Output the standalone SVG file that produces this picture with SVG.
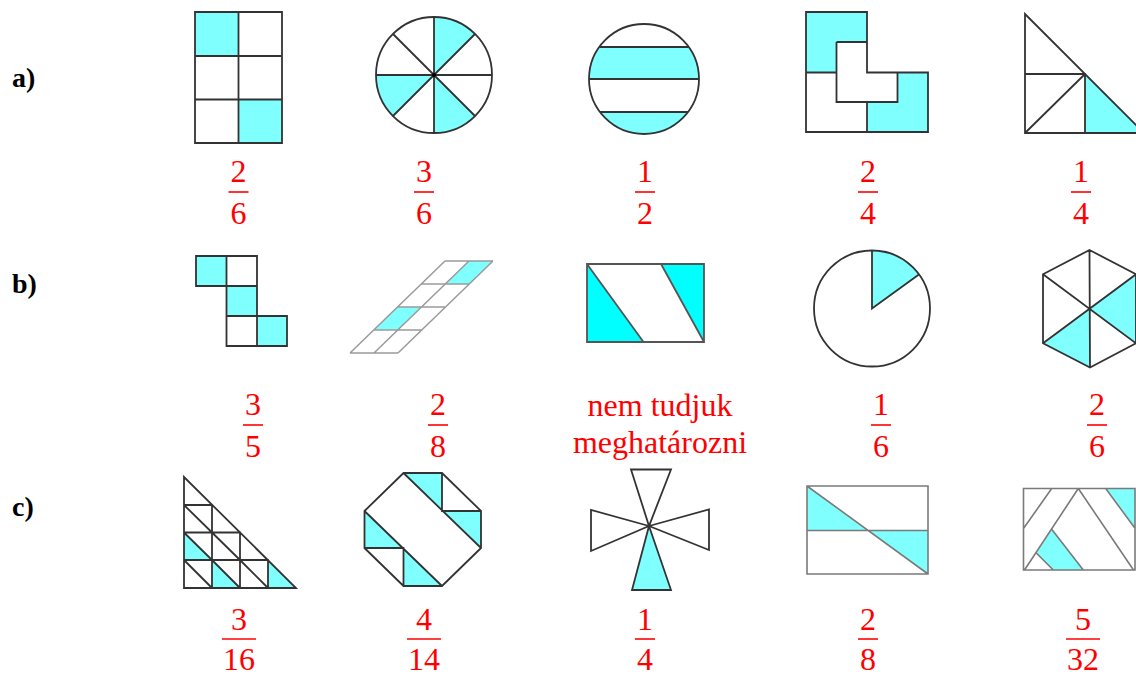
<svg xmlns="http://www.w3.org/2000/svg" width="1136" height="677" viewBox="0 0 1136 677">
<style>
.s{stroke:#333;stroke-width:1.8;fill:none;stroke-linejoin:miter}
.f{fill:#80FFFF;stroke:none}
.F{fill:#00FFFF;stroke:none}
.g{stroke:#9a9a9a;stroke-width:1.5;fill:none}
.gd{stroke:#7a7a7a;stroke-width:1.6;fill:none}
.lab{font-family:"Liberation Serif","Times New Roman",serif;font-weight:bold;font-size:28px;fill:#000}
.fr{font-family:"Liberation Serif","Times New Roman",serif;font-size:32px;fill:#f00;text-anchor:middle}
.bar{stroke:#f00;stroke-width:1.6}
</style>
<rect width="1136" height="677" fill="#fff"/>

<g id="labels">
<text class="lab" x="12" y="87">a)</text>
<text class="lab" x="12" y="293">b)</text>
<text class="lab" x="12" y="516">c)</text>
</g>

<!-- Row a -->
<g id="a1">
<rect class="f" x="195" y="12" width="43.5" height="44"/>
<rect class="f" x="238.5" y="99.5" width="43.5" height="43.5"/>
<path class="s" d="M195,12H282V143H195Z M238.5,12V143 M195,56H282 M195,99.5H282"/>
</g>
<g id="a2">
<path class="f" d="M434,75 L434,17 A58,58 0 0 1 475.01,33.99 Z"/>
<path class="f" d="M434,75 L392.99,116.01 A58,58 0 0 1 376,75 Z"/>
<path class="f" d="M434,75 L475.01,116.01 A58,58 0 0 1 434,133 Z"/>
<circle class="s" cx="434" cy="75" r="58"/>
<path class="s" d="M434,17V133 M376,75H492 M392.99,33.99L475.01,116.01 M392.99,116.01L475.01,33.99"/>
<circle cx="434" cy="75" r="2" fill="#000"/>
</g>
<g id="a3">
<path class="f" d="M599.3,47 L688.7,47 A55,55 0 0 1 699,79 L589,79 A55,55 0 0 1 599.3,47 Z"/>
<path class="f" d="M600,112 L688,112 A55,55 0 0 1 600,112 Z"/>
<circle class="s" cx="644" cy="79" r="55"/>
<path class="s" d="M599.3,47H688.7 M589,79H699 M600,112H688"/>
</g>
<g id="a4">
<path class="f" d="M806,12H867V42H836.5V72.5H806Z"/>
<path class="f" d="M928,72.5V132H867V102H897.5V72.5Z"/>
<path class="s" d="M806,12H867V72.5H928V132H806Z M836.5,42H867 M836.5,42V102H867V132 M806,72.5H836.5 M867,102H897.5V72.5"/>
</g>
<g id="a5">
<path class="f" d="M1085,74L1085,133L1144,133Z"/>
<path class="s" d="M1025,14V133H1144Z M1025,74H1085V133 M1025,133L1085,74"/>
</g>

<!-- Row b -->
<g id="b1">
<rect class="f" x="196" y="256" width="30.5" height="30"/>
<rect class="f" x="226.5" y="286" width="30.5" height="30"/>
<rect class="f" x="257" y="316" width="30" height="30"/>
<path class="s" d="M196,256H257V346H226.5V286H196Z M226.5,256V286 M226.5,286H257 M226.5,316H287V346H257V316"/>
</g>
<g id="b2">
<path class="f" d="M469,261H493L469.25,284H445.25Z"/>
<path class="f" d="M397.5,307H421.5L397.75,330H373.75Z"/>
<path class="g" d="M445,261H493 M421.25,284H469.25 M397.5,307H445.5 M373.75,330H421.75 M350,353H398 M445,261L350,353 M469,261L374,353 M493,261L398,353"/>
</g>
<g id="b3">
<path class="F" d="M587,264V342H643.5Z"/>
<path class="F" d="M661,264H704V342Z"/>
<path class="s" style="stroke:#555" d="M587,264H704V342H587Z M587,264L643.5,342 M661,264L704,342"/>
</g>
<g id="b4">
<path class="f" d="M872,308.5 L872,250.5 A58,58 0 0 1 918.9,274.4 Z"/>
<circle class="s" cx="872" cy="308.5" r="58"/>
<path class="s" d="M872,250.5V308.5L918.9,274.4"/>
</g>
<g id="b5">
<path class="f" d="M1089.5,309L1136,274.3V343.3Z"/>
<path class="f" d="M1089.5,309L1043,343.3L1090,367.5Z"/>
<path class="s" d="M1089.5,250L1136,274.3V343.3L1090,367.5L1043,343.3V274.3Z M1089.5,250L1090,367.5 M1043,274.3L1136,343.3 M1043,343.3L1136,274.3"/>
</g>

<!-- Row c -->
<g id="c1">
<path class="f" d="M184,532.5V560H212Z"/>
<path class="f" d="M212,560V588H240Z"/>
<path class="f" d="M268,560V588H296Z"/>
<path class="s" d="M184,477V588H296Z M184,505H212V588 M184,532.5H240V588 M184,560H268V588 M184,505L212,532.5 M184,532.5L212,560 M212,532.5L240,560 M184,560L212,588 M212,560L240,588 M240,560L268,588"/>
</g>
<g id="c2">
<path class="f" d="M403.5,473H442V511Z"/>
<path class="f" d="M442,511H481V548Z"/>
<path class="f" d="M364.5,511V548H403.5Z"/>
<path class="f" d="M403.5,548V586H442Z"/>
<path class="s" d="M403.5,473H442L481,511V548L442,586H403.5L364.5,548V511Z M403.5,473L481,548 M364.5,511L442,586 M442,473V511H481 M364.5,548H403.5V586"/>
</g>
<g id="c3">
<path class="f" d="M649,526L632,590H671Z"/>
<path class="s" d="M649,526L631,469.5H671Z M649,526L632,590H671Z M649,526L591,510V551Z M649,526L709,509.5V550Z"/>
</g>
<g id="c4">
<path class="f" d="M807,486V530.5H868.2Z"/>
<path class="f" d="M868.2,530.5H928V574Z"/>
<path class="gd" d="M807,486H928V574H807Z M807,530.5H928 M807,486L928,574"/>
</g>
<g id="c5">
<path class="f" d="M1051.7,529.3L1083.3,570H1053.3L1036.5,553.3Z"/>
<path class="f" d="M1105.7,488.5H1135V528.3Z"/>
<path class="gd" d="M1023.5,488.5H1135V570H1023.5Z M1051.7,488.5L1023.5,528.5 M1078.3,488.5L1024.5,570 M1078.3,488.5L1133.5,570 M1105.7,488.5L1135,528.3 M1051.7,529.3L1083.3,570 M1036.5,553.3L1053.3,570"/>
</g>

<!-- Fractions -->
<g id="fractions">
<text class="fr" x="238.5" y="182">2</text><line class="bar" x1="228.5" y1="192" x2="248.5" y2="192"/><text class="fr" x="238.5" y="224">6</text>
<text class="fr" x="424" y="182">3</text><line class="bar" x1="414" y1="192" x2="434" y2="192"/><text class="fr" x="424" y="224">6</text>
<text class="fr" x="645" y="182">1</text><line class="bar" x1="635" y1="192" x2="655" y2="192"/><text class="fr" x="645" y="224">2</text>
<text class="fr" x="868" y="182">2</text><line class="bar" x1="858" y1="192" x2="878" y2="192"/><text class="fr" x="868" y="224">4</text>
<text class="fr" x="1081" y="182">1</text><line class="bar" x1="1071" y1="192" x2="1091" y2="192"/><text class="fr" x="1081" y="224">4</text>

<text class="fr" x="253" y="415">3</text><line class="bar" x1="243" y1="425" x2="263" y2="425"/><text class="fr" x="253" y="457">5</text>
<text class="fr" x="438" y="415">2</text><line class="bar" x1="428" y1="425" x2="448" y2="425"/><text class="fr" x="438" y="457">8</text>
<text class="fr" x="660" y="416">nem tudjuk</text>
<text class="fr" x="660" y="453">meghatározni</text>
<text class="fr" x="881" y="415">1</text><line class="bar" x1="871" y1="425" x2="891" y2="425"/><text class="fr" x="881" y="457">6</text>
<text class="fr" x="1097" y="415">2</text><line class="bar" x1="1087" y1="425" x2="1107" y2="425"/><text class="fr" x="1097" y="457">6</text>

<text class="fr" x="239" y="630">3</text><line class="bar" x1="222" y1="639" x2="256" y2="639"/><text class="fr" x="239" y="670">16</text>
<text class="fr" x="424" y="630">4</text><line class="bar" x1="407" y1="639" x2="441" y2="639"/><text class="fr" x="424" y="670">14</text>
<text class="fr" x="645" y="630">1</text><line class="bar" x1="635" y1="639" x2="655" y2="639"/><text class="fr" x="645" y="670">4</text>
<text class="fr" x="868" y="630">2</text><line class="bar" x1="858" y1="639" x2="878" y2="639"/><text class="fr" x="868" y="670">8</text>
<text class="fr" x="1083" y="630">5</text><line class="bar" x1="1066" y1="639" x2="1100" y2="639"/><text class="fr" x="1083" y="670">32</text>
</g>
</svg>
